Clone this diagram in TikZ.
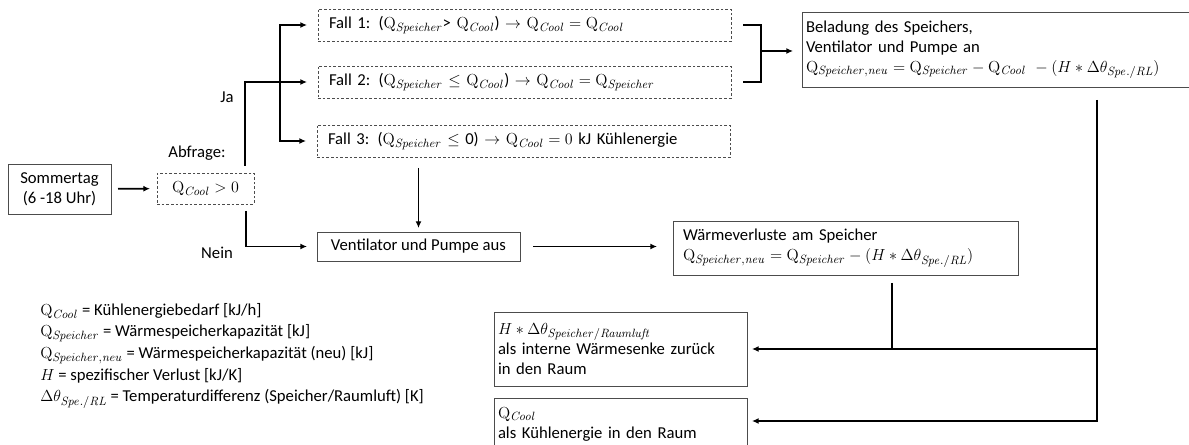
\documentclass[tikz,border=0pt]{standalone}
\usepackage[no-math]{fontspec}
\setmainfont{Carlito}
\usetikzlibrary{arrows.meta,calc}
\DeclareMathSizes{12.5}{12.5}{9}{7}
\newcommand{\Qx}[1]{\mathrm{Q}_{\mathit{#1}}}
\tikzset{
    box/.style={draw=black!70, line width=0.7pt, inner ysep=0pt, outer sep=0pt,
        anchor=north west, font=\fontsize{12.5}{15}\selectfont},
    dbox/.style={box, dash pattern=on 2pt off 1.5pt},
    pfeil/.style={-{Latex[length=5pt,width=4.5pt]}, line width=1.2pt},
    linie/.style={line width=1.2pt},
    label/.style={font=\fontsize{12.5}{15}\selectfont, inner sep=0pt}
}
\begin{document}
\begin{tikzpicture}[x=0.75pt, y=-0.75pt]
        \path[use as bounding box, clip] (0,0) rectangle (1189,445);
        % left part
        \node[box, minimum width=77.25pt, minimum height=37.5pt, align=center]
            (sommer) at (8,164) {Sommertag\\(6 -18 Uhr)};
        \node[dbox, minimum width=72.75pt, minimum height=23.25pt]
            (abfrage) at (157,173) {$\Qx{Cool} > 0$};
        \node[label] (abfragetxt) at (197,153) {Abfrage:};
        \node[label] (ja) at (227,97) {Ja};
        \node[label] (nein) at (217,253) {Nein};
        % the three cases
        \node[dbox, minimum width=309.75pt, minimum height=24pt, inner xsep=8.25pt,
            text width=293.25pt, align=left] (fallA) at (318,9)
            {Fall 1: ($\Qx{Speicher}$> $\Qx{Cool}$) $\rightarrow$ $\Qx{Cool} = \Qx{Cool}$};
        \node[dbox, minimum width=309.75pt, minimum height=24pt, inner xsep=8.25pt,
            text width=293.25pt, align=left] (fallB) at (318,66)
            {Fall 2: ($\Qx{Speicher}$ $\leq$ $\Qx{Cool}$) $\rightarrow$ $\Qx{Cool} = \Qx{Speicher}$};
        \node[dbox, minimum width=309.75pt, minimum height=24pt, inner xsep=8.25pt,
            text width=293.25pt, align=left] (fallC) at (317,125)
            {Fall 3: ($\Qx{Speicher}$ $\leq$ 0) $\rightarrow$ $\Qx{Cool} = 0$ kJ Kühlenergie};
        \node[box, minimum width=315pt, minimum height=56.25pt, inner xsep=3pt,
            text width=309pt, align=left] (beladung) at (802,12)
            {Beladung des Speichers,\\Ventilator und Pumpe an\\
            $\Qx{Speicher,neu} = \Qx{Speicher} - \Qx{Cool}\ - (H \ast \Delta\theta_{\mathit{Spe./RL}})$};
        % no cooling
        \node[box, minimum width=152.25pt, minimum height=21.75pt, align=center]
            (ventaus) at (317,232) {Ventilator und Pumpe aus};
        \node[box, minimum width=258.75pt, minimum height=40.5pt, inner xsep=7.5pt,
            text width=243.75pt, align=left] (verlust) at (673,221)
            {Wärmeverluste am Speicher\\
            $\Qx{Speicher,neu} = \Qx{Speicher} - (H \ast \Delta\theta_{\mathit{Spe./RL}})$};
        % into the room
        \node[box, minimum width=189.75pt, minimum height=55.5pt, inner xsep=3pt,
            text width=183.75pt, align=left] (senke) at (494,312)
            {$H \ast \Delta\theta_{\mathit{Speicher/Raumluft}}$\\als interne Wärmesenke zurück\\in den Raum};
        \node[box, minimum width=189.75pt, minimum height=39pt, inner xsep=3pt,
            text width=183.75pt, align=left] (kuehl) at (494,398)
            {$\Qx{Cool}$\\als Kühlenergie in den Raum};
        % legend
        \node[label, anchor=north west, align=left, font=\fontsize{12.5}{16.25}\selectfont]
            (legende) at (40,303)
            {$\Qx{Cool}$ = Kühlenergiebedarf [kJ/h]\\
            $\Qx{Speicher}$ = Wärmespeicherkapazität [kJ]\\
            $\Qx{Speicher,neu}$ = Wärmespeicherkapazität (neu) [kJ]\\
            $H$ = spezifischer Verlust [kJ/K]\\
            $\Delta\theta_{\mathit{Spe./RL}}$ = Temperaturdifferenz (Speicher/Raumluft) [K]};
        % connectors
        \draw[pfeil, shorten <=5.25pt, shorten >=5.25pt] (sommer) -- (abfrage);
        \coordinate (verzw) at (280,82);
        \draw[pfeil] ($(abfrage.north east)+(-9,-7)$) |- ($(fallB.west)+(-11,0)$);
        \foreach \fall in {fallA, fallC}
            \draw[pfeil] (verzw) |- ($(\fall.west)+(-11,0)$);
        \draw[pfeil] ($(abfrage.south east)+(-8,7)$) |- ($(ventaus.west)+(-10,0)$);
        \coordinate (klammer) at (761,51);
        \draw[linie] ($(fallA.east)+(12,0)$) -| (klammer |- fallB.east) -- ($(fallB.east)+(12,0)$);
        \draw[pfeil, shorten >=6.75pt] (klammer) -- (klammer -| beladung.west);
        \draw[pfeil, shorten <=8.25pt, shorten >=3pt] (ventaus.north |- fallC.south) -- (ventaus.north);
        \draw[pfeil, shorten <=9.75pt, shorten >=12pt] (ventaus.east) -- (ventaus.east -| verlust.west);
        \coordinate (rechts) at ($(beladung.south west)+(295,13)$);
        \draw[pfeil] (rechts) |- ($(kuehl.east)+(5,-3)$);
        \draw[pfeil] (rechts |- senke.east) -- ($(senke.east)+(5,0)$);
        \coordinate (abzw) at ($(verlust.south west)+(219,8)$);
        \draw[linie] (abzw) -- (abzw |- senke.east);
    \end{tikzpicture}
\end{document}
